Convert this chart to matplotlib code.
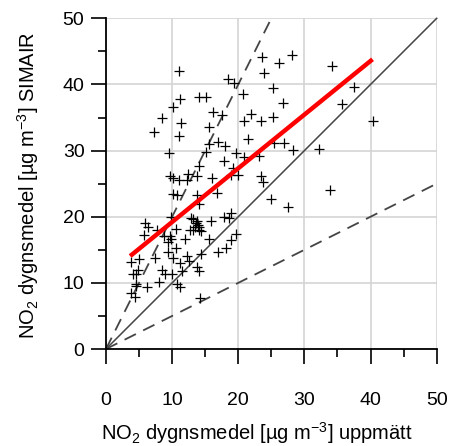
import matplotlib
matplotlib.use("Agg")
import matplotlib.pyplot as plt
from matplotlib.ticker import MultipleLocator

plt.rcParams['font.family'] = ['Liberation Sans', 'DejaVu Sans']

# Measured NO2 (x) vs SIMAIR modelled NO2 (y), daily means
meas = [23.6, 28.1, 26.2, 34.2, 11.0, 23.9, 18.5, 19.3, 20.7, 25.2, 37.5, 11.2,
        14.1, 15.1, 10.2, 26.8, 35.7, 16.2, 17.6, 21.9, 8.5, 25.3, 20.9, 23.5,
        40.3, 11.3, 15.6, 7.2, 11.1, 21.4, 15.6, 16.9, 18.0, 25.4, 26.9, 28.2,
        32.2, 9.6, 15.1, 19.6, 20.9, 23.1, 17.9, 14.1, 19.2, 12.4, 9.7, 10.2,
        11.0, 12.3, 13.7, 16.0, 18.9, 20.0, 23.4, 23.7, 10.1, 10.7, 13.7, 16.8,
        24.9, 33.9, 14.1, 27.5, 9.8, 12.9, 13.7, 15.9, 17.8, 18.9, 18.6, 5.9,
        6.4, 7.7, 10.6, 12.7, 13.5, 14.0, 14.1, 13.1, 5.8, 8.7, 9.7, 9.8,
        9.3, 12.0, 15.5, 19.7, 18.9, 10.6, 9.3, 16.9, 18.1, 14.4, 7.4, 5.0,
        3.8, 10.2, 12.2, 12.6, 13.7, 14.1, 11.2, 11.5, 4.1, 4.6, 4.9, 8.5,
        8.9, 10.0, 8.0, 10.7, 11.2, 4.6, 6.2, 3.8, 4.4, 14.2, 4.5, 13.2,
        13.9, 14.3, 13.6]
model = [44.2, 44.5, 43.3, 42.8, 42.0, 41.8, 40.8, 40.2, 38.5, 39.4, 39.6, 37.8,
         38.1, 38.1, 36.6, 37.2, 37.0, 35.9, 35.4, 35.6, 35.0, 35.1, 34.5, 34.5,
         34.5, 34.1, 33.5, 32.8, 32.2, 31.7, 31.0, 31.3, 30.7, 31.1, 31.1, 30.1,
         30.2, 29.7, 29.8, 29.6, 29.1, 29.2, 28.4, 27.6, 27.4, 26.5, 26.2, 25.9,
         25.6, 25.6, 26.2, 25.9, 26.3, 26.3, 26.2, 25.2, 23.5, 23.3, 23.3, 23.6,
         22.7, 24.1, 21.9, 21.4, 20.0, 19.8, 19.3, 19.3, 20.0, 20.5, 19.8, 19.0,
         18.4, 18.0, 18.1, 18.0, 18.5, 18.0, 18.5, 18.0, 17.2, 17.1, 17.1, 16.7,
         16.2, 16.7, 16.6, 17.4, 16.5, 15.2, 14.6, 14.6, 15.2, 14.4, 13.7, 13.6,
         13.1, 13.8, 14.0, 13.3, 12.4, 11.8, 13.0, 11.8, 11.3, 11.3, 11.9, 11.9,
         11.3, 11.3, 10.2, 9.9, 9.4, 9.8, 9.3, 8.5, 7.8, 7.7, 9.6, 19.6,
         18.8, 17.9, 19.0]

# Regression line end points
fit_x = [3.65, 40.3]
fit_y = [14.05, 43.8]

# Reference lines: 1:1, 2:1, 1:2
ref_x = [0, 50]
ref_11 = [0, 50]
ref_2x_x = [0, 25]
ref_2x_y = [0, 50]
ref_half_y = [0, 25]

ticks = [0, 10, 20, 30, 40, 50]

fig = plt.figure(figsize=(4.51, 4.46), dpi=100)
ax = fig.add_axes([106 / 451, 97 / 446, 330.7 / 451, 330.7 / 446])

ax.set_xlim(0, 50)
ax.set_ylim(0, 50)
ax.set_xticks(ticks)
ax.set_yticks(ticks)
ax.xaxis.set_minor_locator(MultipleLocator(5))
ax.yaxis.set_minor_locator(MultipleLocator(5))
ax.grid(True, which='major', color='#d4d4d4', linewidth=1.2, zorder=0)
ax.set_axisbelow(True)

for s in ['top', 'right']:
    ax.spines[s].set_visible(False)
for s in ['left', 'bottom']:
    ax.spines[s].set_linewidth(1.3)
    ax.spines[s].set_color('black')

ax.tick_params(axis='x', which='major', direction='out', length=11, width=1.2,
               pad=20, labelsize=14)
ax.tick_params(axis='x', which='minor', direction='out', length=6, width=1.2)
ax.tick_params(axis='y', which='major', direction='out', length=10.5, width=1.2,
               pad=5, labelsize=14)
ax.tick_params(axis='y', which='minor', direction='out', length=6, width=1.2)

line_col = '#444444'
ax.plot(ref_x, ref_11, color=line_col, linewidth=1.1, zorder=2, clip_on=False)
ax.plot(ref_2x_x, ref_2x_y, color=line_col, linewidth=1.3, zorder=2,
        dashes=(7, 4.5), clip_on=False)
ax.plot(ref_x, ref_half_y, color=line_col, linewidth=1.3, zorder=2,
        dashes=(7, 4.5), clip_on=False)

ax.plot(meas, model, linestyle='none', marker='+', markersize=7,
        markeredgewidth=0.9, color='black', zorder=3)

ax.plot(fit_x, fit_y, color='#ff0000', linewidth=3.2, zorder=4,
        solid_capstyle='butt')

ax.set_xlabel('NO$_\\mathregular{2}$ dygnsmedel [µg m$^\\mathregular{-3}$] uppmätt',
              fontsize=14.5)
ax.set_ylabel('NO$_\\mathregular{2}$ dygnsmedel [µg m$^\\mathregular{-3}$] SIMAIR',
              fontsize=14.5)
ax.xaxis.set_label_coords(0.457, -0.215)
ax.yaxis.set_label_coords(-0.197, 0.495)

fig.savefig('out.png', dpi=100)
